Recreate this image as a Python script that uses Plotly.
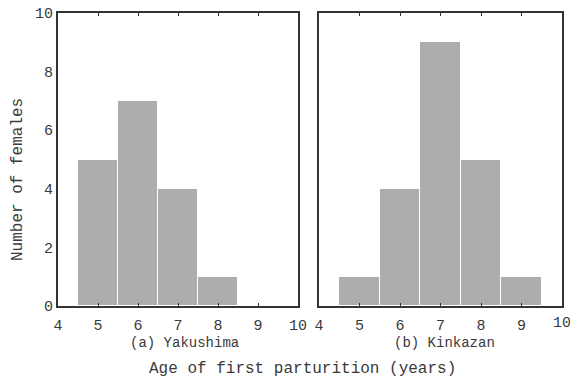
import plotly.graph_objects as go

ages = [5, 6, 7, 8, 9]
yakushima = [5, 7, 4, 1, 0]
kinkazan = [1, 4, 9, 5, 1]
x_ticks = [4, 5, 6, 7, 8, 9, 10]
y_ticks = [0, 2, 4, 6, 8, 10]

FONT = "Liberation Mono"
TXT = "#3a3a3a"
BAR = "#adadad"

fig = go.Figure()
fig.add_trace(go.Bar(x=ages, y=yakushima, width=1, marker=dict(color=BAR, line=dict(color="white", width=1)),
                     xaxis="x", yaxis="y", showlegend=False))
fig.add_trace(go.Bar(x=ages, y=kinkazan, width=1, marker=dict(color=BAR, line=dict(color="white", width=1)),
                     xaxis="x2", yaxis="y2", showlegend=False))

xcommon = dict(range=[4, 10], tickvals=x_ticks, ticks="inside", ticklen=3, tickcolor="#333",
               showline=True, linecolor="#333", linewidth=2, mirror="ticks", showgrid=False,
               zeroline=False, automargin=False, ticklabelstandoff=4,
               tickfont=dict(family=FONT, size=15, color=TXT))
ycommon = dict(range=[0, 10], tickvals=y_ticks, ticks="", showline=True, linecolor="#333",
               linewidth=2, mirror=True, showgrid=False, zeroline=False, automargin=False,
               tickfont=dict(family=FONT, size=15, color=TXT))

right_ticktext = [str(v) for v in x_ticks[:-1]] + [""]

dom_y = [1 - 306 / 383, 1 - 13 / 383]
ann = dict(xref="paper", yref="paper", showarrow=False, xanchor="center", yanchor="middle")
fig.update_layout(
    width=570, height=383,
    margin=dict(l=0, r=0, t=0, b=0, autoexpand=False),
    paper_bgcolor="white", plot_bgcolor="white",
    bargap=0,
    xaxis=dict(domain=[58 / 570, 298 / 570], anchor="y", **xcommon),
    yaxis=dict(domain=dom_y, anchor="x", **ycommon),
    xaxis2=dict(domain=[319 / 570, 562 / 570], anchor="y2", ticktext=right_ticktext, **xcommon),
    yaxis2=dict(domain=dom_y, anchor="x2", showticklabels=False, **ycommon),
    annotations=[
        dict(text=str(x_ticks[-1]), x=x_ticks[-1], xref="x2", y=1 - 323 / 383, yref="paper",
             showarrow=False, xanchor="center", yanchor="middle",
             font=dict(family=FONT, size=15, color=TXT)),
        dict(text="(a) Yakushima", x=184 / 570, y=1 - 343 / 383,
             font=dict(family=FONT, size=14, color=TXT), **ann),
        dict(text="(b) Kinkazan", x=444 / 570, y=1 - 343 / 383,
             font=dict(family=FONT, size=14, color=TXT), **ann),
        dict(text="Age of first parturition (years)", x=302 / 570, y=1 - 369 / 383,
             font=dict(family=FONT, size=16, color=TXT), **ann),
        dict(text="Number of females", x=18 / 570, y=1 - 180 / 383, textangle=-90,
             font=dict(family=FONT, size=16, color=TXT), **ann),
    ],
)

fig.write_html("out.html", config={"displayModeBar": False},
               post_script="document.body.style.margin='0';document.body.style.overflow='hidden';")
